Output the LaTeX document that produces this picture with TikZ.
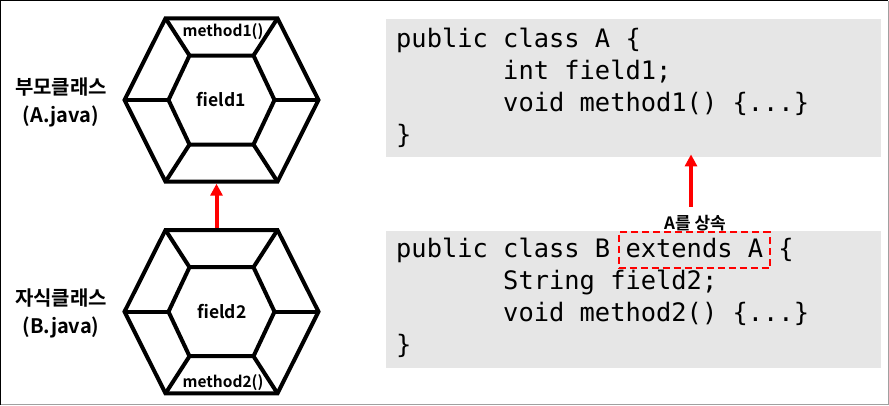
\documentclass[tikz,border=0pt]{standalone}
\usepackage{fontspec}
\usetikzlibrary{arrows.meta}
\newfontfamily\krfont{Noto Sans CJK KR Bold}
\newfontfamily\codefont{DejaVu Sans Mono}
\definecolor{codebg}{HTML}{E6E6E6}
\definecolor{inhred}{HTML}{FF0000}
\definecolor{framegray}{HTML}{A0A0A0}
\newcommand\ind{\phantom{0000000}}
\tikzset{
  hexline/.style={line width=4pt},
  inharrow/.style={inhred, line width=4pt, -{Triangle[width=12pt,length=12pt]}},
  codebox/.style={fill=codebg, inner sep=0pt, minimum width=494.7pt, minimum height=137.4pt},
  codeline/.style={anchor=base west, inner sep=0pt, font=\codefont\fontsize{25.4}{30}\selectfont},
  extbox/.style={draw=inhred, line width=2pt, dash pattern=on 7pt off 4pt,
    minimum width=151.3pt, minimum height=36pt, inner sep=0pt},
  classlbl/.style={font=\krfont\fontsize{20}{28}\selectfont, align=center},
  fieldlbl/.style={font=\krfont\fontsize{17.5}{19}\selectfont, inner sep=0pt},
  memberlbl/.style={font=\krfont\fontsize{15.5}{17}\selectfont, inner sep=0pt},
  inhlbl/.style={font=\krfont\fontsize{17}{19}\selectfont, inner sep=0pt},
  classhex/.pic={
    \draw[hexline] (-97,0) -- (-56,-81.7) -- (56,-81.7) -- (97,0) -- (56,81.7) -- (-56,81.7) -- cycle;
    \draw[hexline] (-53,0) -- (-32,-44.5) -- (32,-44.5) -- (53,0) -- (32,44.5) -- (-32,44.5) -- cycle;
    \foreach \ox/\oy/\ix/\iy in {97/0/53/0, 56/-81.7/32/-44.5, -56/-81.7/-32/-44.5,
      -97/0/-53/0, -56/81.7/-32/44.5, 56/81.7/32/44.5}
      \draw[hexline] (\ox,\oy) -- (\ix,\iy);
    \coordinate (-top) at (-5,-81.7);
    \coordinate (-bot) at (-5,81.7);
  }
}
\begin{document}
\begin{tikzpicture}[x=1pt,y=-1pt]
  \useasboundingbox (0,0) rectangle (889,405);
  % frame
  \draw[line width=1.4pt] (0.7,405) -- (0.7,0.7) -- (888,0.7);
  \draw[framegray, line width=1.3pt] (888.3,0.7) -- (888.3,404.3) -- (0.7,404.3);

  % code of the two classes
  \node[codebox] (codeA) at (633.35,88) {};
  \node[codebox] (codeB) at (633.35,299.65) {};
  \foreach \i/\txt in {0/{public class A \{}, 1/{\ind int field1;},
    2/{\ind void method1() \{...\}}, 3/{\}}}
    \node[codeline] (lineA\i) at (396,{47+32*\i}) {\txt};
  \foreach \i/\txt in {0/{public class B extends A \{}, 1/{\ind String field2;},
    2/{\ind void method2() \{...\}}, 3/{\}}}
    \node[codeline] (lineB\i) at (396,{257.5+32*\i}) {\txt};
  \node[extbox] (extA) at ({396+19.5*15.29},250.3) {};

  % class pictures
  \pic (hexA) at (221.5,100) {classhex};
  \pic (hexB) at (221.5,311.7) {classhex};
  \node[memberlbl] (methA) at (223,31.5) {method1()};
  \node[fieldlbl] (fieldA) at (221.5,100) {field1};
  \node[fieldlbl] (fieldB) at (222,311.7) {field2};
  \node[memberlbl] (methB) at (223,382.5) {method2()};
  \node[classlbl] (lblA) at (61,102.5) {부모클래스\\(A.java)};
  \node[classlbl] (lblB) at (61,313.5) {자식클래스\\(B.java)};

  % inheritance
  \draw[inharrow, shorten <=2pt, shorten >=2pt] (hexB-top) -- (hexA-bot);
  \node[inhlbl] (inhtxt) at (695,222.7) {A를 상속};
  \coordinate (inhtail) at (691,206.7);
  \draw[inharrow, shorten >=-2.5pt] (inhtail) -- (inhtail |- codeA.south);
\end{tikzpicture}
\end{document}
